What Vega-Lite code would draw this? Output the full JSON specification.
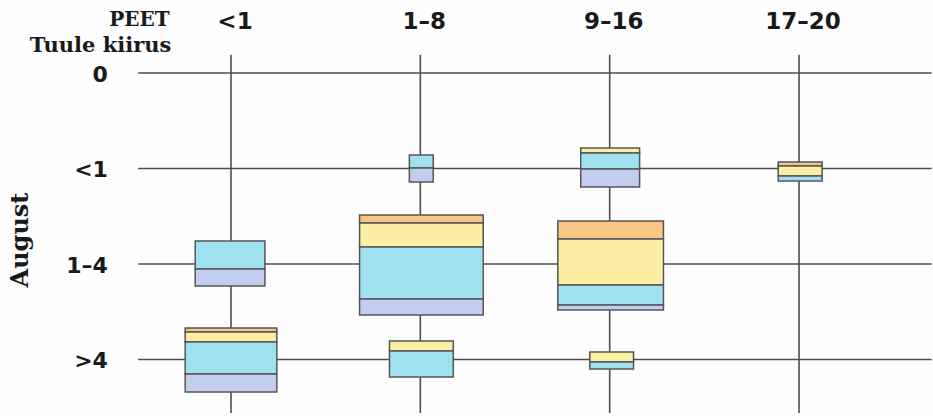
{
  "$schema": "https://vega.github.io/schema/vega-lite/v6.json",
  "width": 933,
  "height": 416,
  "autosize": {"type": "fit", "contains": "padding"},
  "padding": 0,
  "background": "#fefefe",
  "config": {"view": {"stroke": null}},
  "datasets": {
    "rows": [
      {"row": 0, "label": "0"},
      {"row": 1, "label": "<1"},
      {"row": 2, "label": "1–4"},
      {"row": 3, "label": ">4"}
    ],
    "cols": [
      {"col": 1, "label": "<1"},
      {"col": 2, "label": "1–8"},
      {"col": 3, "label": "9–16"},
      {"col": 4, "label": "17–20"}
    ],
    "segments": [
      {"peet": "<1", "wind": "1–4", "seg": "d", "x0": 0.811, "x1": 1.179, "y0": 1.759, "y1": 2.052},
      {"peet": "<1", "wind": "1–4", "seg": "e", "x0": 0.811, "x1": 1.179, "y0": 2.052, "y1": 2.230},
      {"peet": "<1", "wind": ">4", "seg": "a", "x0": 0.758, "x1": 1.242, "y0": 2.670, "y1": 2.712},
      {"peet": "<1", "wind": ">4", "seg": "b", "x0": 0.758, "x1": 1.242, "y0": 2.712, "y1": 2.817},
      {"peet": "<1", "wind": ">4", "seg": "d", "x0": 0.758, "x1": 1.242, "y0": 2.817, "y1": 3.152},
      {"peet": "<1", "wind": ">4", "seg": "e", "x0": 0.758, "x1": 1.242, "y0": 3.152, "y1": 3.340},
      {"peet": "1–8", "wind": "<1", "seg": "d", "x0": 1.942, "x1": 2.068, "y0": 0.859, "y1": 0.995},
      {"peet": "1–8", "wind": "<1", "seg": "e", "x0": 1.942, "x1": 2.068, "y0": 0.995, "y1": 1.141},
      {"peet": "9–16", "wind": "<1", "seg": "b", "x0": 2.847, "x1": 3.158, "y0": 0.785, "y1": 0.838},
      {"peet": "9–16", "wind": "<1", "seg": "d", "x0": 2.847, "x1": 3.158, "y0": 0.838, "y1": 1.005},
      {"peet": "9–16", "wind": "<1", "seg": "e", "x0": 2.847, "x1": 3.158, "y0": 1.005, "y1": 1.194},
      {"peet": "17–20", "wind": "<1", "seg": "a", "x0": 3.890, "x1": 4.122, "y0": 0.932, "y1": 0.974},
      {"peet": "17–20", "wind": "<1", "seg": "b", "x0": 3.890, "x1": 4.122, "y0": 0.974, "y1": 1.079},
      {"peet": "17–20", "wind": "<1", "seg": "d", "x0": 3.890, "x1": 4.122, "y0": 1.079, "y1": 1.131},
      {"peet": "1–8", "wind": "1–4", "seg": "a", "x0": 1.679, "x1": 2.332, "y0": 1.487, "y1": 1.571},
      {"peet": "1–8", "wind": "1–4", "seg": "b", "x0": 1.679, "x1": 2.332, "y0": 1.571, "y1": 1.822},
      {"peet": "1–8", "wind": "1–4", "seg": "d", "x0": 1.679, "x1": 2.332, "y0": 1.822, "y1": 2.366},
      {"peet": "1–8", "wind": "1–4", "seg": "e", "x0": 1.679, "x1": 2.332, "y0": 2.366, "y1": 2.534},
      {"peet": "9–16", "wind": "1–4", "seg": "a", "x0": 2.726, "x1": 3.284, "y0": 1.550, "y1": 1.738},
      {"peet": "9–16", "wind": "1–4", "seg": "b", "x0": 2.726, "x1": 3.284, "y0": 1.738, "y1": 2.220},
      {"peet": "9–16", "wind": "1–4", "seg": "d", "x0": 2.726, "x1": 3.284, "y0": 2.220, "y1": 2.429},
      {"peet": "9–16", "wind": "1–4", "seg": "e", "x0": 2.726, "x1": 3.284, "y0": 2.429, "y1": 2.482},
      {"peet": "1–8", "wind": ">4", "seg": "b", "x0": 1.837, "x1": 2.174, "y0": 2.806, "y1": 2.911},
      {"peet": "1–8", "wind": ">4", "seg": "d", "x0": 1.837, "x1": 2.174, "y0": 2.911, "y1": 3.183},
      {"peet": "9–16", "wind": ">4", "seg": "b", "x0": 2.895, "x1": 3.126, "y0": 2.921, "y1": 3.026},
      {"peet": "9–16", "wind": ">4", "seg": "d", "x0": 2.895, "x1": 3.126, "y0": 3.026, "y1": 3.099}
    ]
  },
  "layer": [
    {
      "data": {"name": "rows"},
      "mark": {"type": "rule", "color": "#4d4d4d", "strokeWidth": 1.6},
      "encoding": {
        "y": {"field": "row", "type": "quantitative", "axis": null,
              "scale": {"domain": [-0.764, 3.592], "reverse": true, "nice": false, "zero": false}},
        "x": {"datum": 0.51, "type": "quantitative", "axis": null,
              "scale": {"domain": [-0.22, 4.66], "nice": false, "zero": false}},
        "x2": {"datum": 4.7}
      }
    },
    {
      "data": {"name": "cols"},
      "mark": {"type": "rule", "color": "#4d4d4d", "strokeWidth": 1.6},
      "encoding": {
        "x": {"field": "col", "type": "quantitative", "axis": null},
        "y": {"datum": -0.19, "type": "quantitative", "axis": null},
        "y2": {"datum": 3.56}
      }
    },
    {
      "data": {"name": "segments"},
      "mark": {"type": "rect", "stroke": "#555555", "strokeWidth": 1.5},
      "encoding": {
        "x": {"field": "x0", "type": "quantitative", "axis": null},
        "x2": {"field": "x1"},
        "y": {"field": "y0", "type": "quantitative", "axis": null},
        "y2": {"field": "y1"},
        "color": {"field": "seg", "type": "nominal", "legend": null,
                  "scale": {"domain": ["a", "b", "d", "e"], "range": ["#f7c584", "#fcefa3", "#a0e1f0", "#c3cdef"]}},
        "tooltip": [{"field": "peet"}, {"field": "wind"}]
      }
    },
    {
      "data": {"name": "cols"},
      "mark": {"type": "text", "font": "DejaVu Sans", "fontWeight": "bold", "fontSize": 23, "color": "#1a1a1a", "dx": 4, "baseline": "middle"},
      "encoding": {
        "x": {"field": "col", "type": "quantitative", "axis": null},
        "y": {"datum": -0.534, "type": "quantitative", "axis": null},
        "text": {"field": "label"}
      }
    },
    {
      "data": {"name": "rows"},
      "mark": {"type": "text", "font": "DejaVu Sans", "fontWeight": "bold", "fontSize": 22, "color": "#1a1a1a", "align": "right", "baseline": "middle", "dy": 2},
      "encoding": {
        "y": {"field": "row", "type": "quantitative", "axis": null},
        "x": {"datum": 0.35, "type": "quantitative", "axis": null},
        "text": {"field": "label"}
      }
    },
    {
      "data": {"values": [{"t": "PEET"}]},
      "mark": {"type": "text", "font": "DejaVu Serif", "fontWeight": "bold", "fontSize": 20, "color": "#1a1a1a", "baseline": "middle"},
      "encoding": {
        "x": {"datum": 0.516, "type": "quantitative", "axis": null},
        "y": {"datum": -0.55, "type": "quantitative", "axis": null},
        "text": {"field": "t"}
      }
    },
    {
      "data": {"values": [{"t": "Tuule kiirus"}]},
      "mark": {"type": "text", "font": "DejaVu Serif", "fontWeight": "bold", "fontSize": 21, "color": "#1a1a1a", "baseline": "middle"},
      "encoding": {
        "x": {"datum": 0.311, "type": "quantitative", "axis": null},
        "y": {"datum": -0.285, "type": "quantitative", "axis": null},
        "text": {"field": "t"}
      }
    },
    {
      "data": {"values": [{"t": "August"}]},
      "mark": {"type": "text", "font": "DejaVu Serif", "fontWeight": "bold", "fontSize": 24, "color": "#1a1a1a", "baseline": "middle", "angle": 270},
      "encoding": {
        "x": {"datum": -0.111, "type": "quantitative", "axis": null},
        "y": {"datum": 1.749, "type": "quantitative", "axis": null},
        "text": {"field": "t"}
      }
    }
  ]
}
